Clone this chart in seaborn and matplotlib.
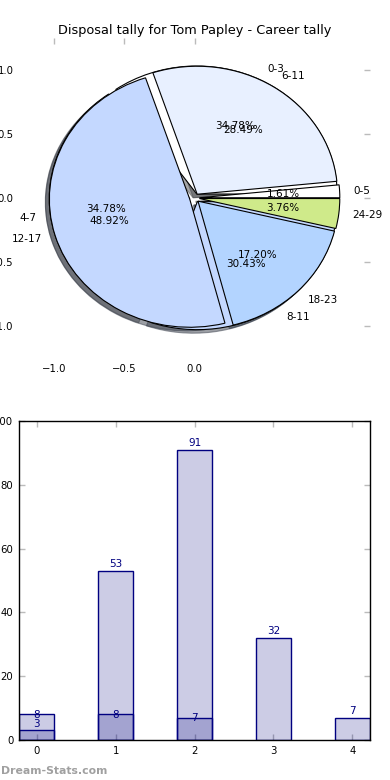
import matplotlib
matplotlib.use("Agg")
import matplotlib.pyplot as plt
import seaborn as sns
import pandas as pd

# ---- data ----
title = "Disposal tally for Tom Papley - Career tally"
labels_a = ["0-5", "6-11", "12-17", "18-23", "24-29"]
values_a = [3, 53, 91, 32, 7]
labels_b = ["0-3", "4-7", "8-11"]
values_b = [8, 8, 7]
bar_cats = ["0", "1", "2", "3", "4"]
colors_a = ["#ffffff", "#e8f0ff", "#c4d8ff", "#b3d4ff", "#cfea8a"]
colors_b = ["#ffffff", "#e8f0ff", "#c4d8ff"]

sns.set_style("white")
plt.rcParams["font.family"] = ["DejaVu Sans"]
plt.rcParams["text.color"] = "black"
plt.rcParams["axes.labelcolor"] = "black"

fig = plt.figure(figsize=(3.9, 7.8), dpi=100)
ax1 = fig.add_axes([19 / 390, 1 - 358 / 780, 351 / 390, 320 / 780])
ax2 = fig.add_axes([19 / 390, 1 - 740 / 780, 351 / 390, 319 / 780])

wp = dict(edgecolor="black", linewidth=0.8)
tp = dict(fontsize=7.5, color="black")
# second series pie drawn first (behind)
ax1.pie(values_b, labels=labels_b, colors=colors_b, explode=[0.035] * len(values_b),
        autopct="%1.2f%%", shadow=True, wedgeprops=wp, textprops=tp)
ax1.pie(values_a, labels=labels_a, colors=colors_a, explode=[0.035] * len(values_a),
        autopct="%1.2f%%", shadow=True, wedgeprops=wp, textprops=tp)
ax1.set_aspect("auto")
ax1.set_xlim(-1.25, 1.25)
ax1.set_ylim(-1.25, 1.25)
ax1.set_xticks([-1.0, -0.5, 0.0])
ax1.set_yticks([-1.0, -0.5, 0.0, 0.5, 1.0])
ax1.set_xticklabels(["\u22121.0", "\u22120.5", "0.0"])
ax1.set_yticklabels(["\u22121.0", "\u22120.5", "0.0", "0.5", "1.0"])
ax1.tick_params(direction="in", top=True, right=True, length=4, width=1,
                color="#bbbbbb", labelcolor="black", labelsize=7.3, pad=4)
ax1.set_title(title, fontsize=9.3, pad=3, color="black")

# bars
df_a = pd.DataFrame({"cat": bar_cats[:len(values_a)], "val": values_a})
df_b = pd.DataFrame({"cat": bar_cats[:len(values_b)], "val": values_b})
sns.barplot(data=df_a, x="cat", y="val", order=bar_cats, width=0.45, saturation=1,
            color="navy", ax=ax2, errorbar=None)
sns.barplot(data=df_b, x="cat", y="val", order=bar_cats, width=0.45, saturation=1,
            color="navy", ax=ax2, errorbar=None)
for p in ax2.patches:
    p.set_facecolor((0, 0, 0.5, 0.2))
    p.set_edgecolor("navy")
    p.set_linewidth(1.0)

for i, v in enumerate(values_a):
    ax2.text(i, v + 1.2, "%d" % v, ha="center", va="baseline", color="navy", fontsize=7.5)
for i, v in enumerate(values_b):
    ax2.text(i, v - 1.0, "%d" % v, ha="center", va="baseline", color="navy", fontsize=7.5)

ax2.set_xlim(-0.225, len(bar_cats) - 1 + 0.225)
ax2.set_ylim(0, 100)
ax2.set_yticks([0, 20, 40, 60, 80, 100])
ax2.set_xlabel("")
ax2.set_ylabel("")
for s in ax2.spines.values():
    s.set_visible(True)
    s.set_color("black")
    s.set_linewidth(1.0)
ax2.tick_params(direction="in", top=True, right=True, length=4, width=1,
                color="#bbbbbb", labelcolor="black", labelsize=7.3, pad=4,
                bottom=True, left=True)

fig.text(0.002, 0.005, "Dream-Stats.com", color="#a0a0a0", fontsize=7.8,
         fontweight="bold", ha="left", va="bottom")

fig.savefig("out.png", dpi=100)
